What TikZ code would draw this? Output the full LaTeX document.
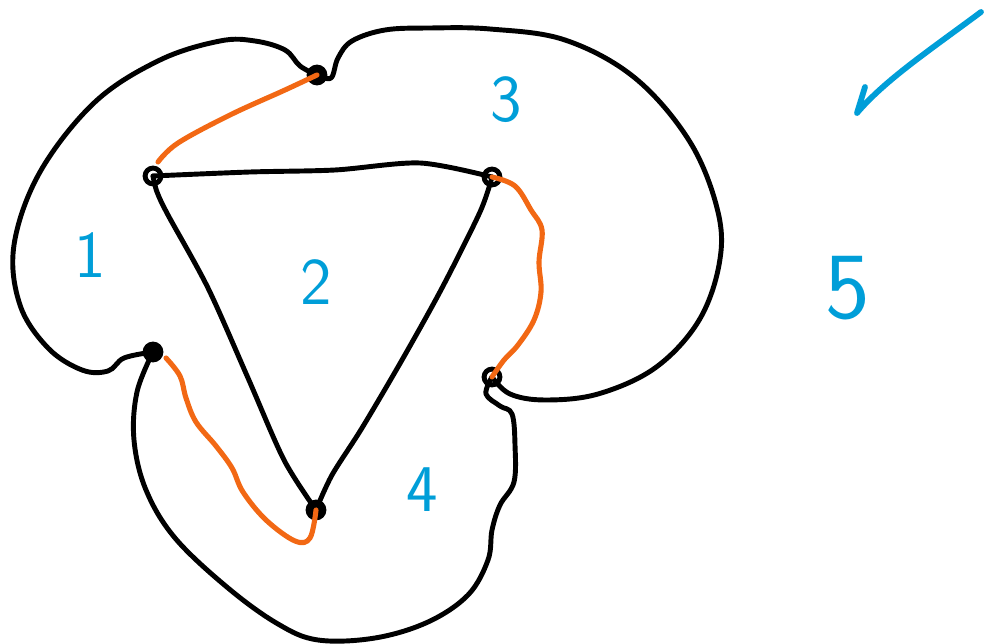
\documentclass[tikz,border=0pt]{standalone}
\usepackage{tikz}
\usetikzlibrary{positioning,calc}
\definecolor{inkorange}{RGB}{242,104,20}
\definecolor{inkblue}{RGB}{0,158,216}
\tikzset{
  knot/.style={circle,draw=black,line width=2.8pt,inner sep=0pt,minimum size=9pt},
  solidknot/.style={knot,fill=black},
  wire/.style={draw=black,line width=2.8pt,line cap=round,line join=round},
  twist/.style={draw=inkorange,line width=2.9pt,line cap=round,line join=round},
  region/.style={text=inkblue,font=\sffamily\fontsize{38}{40}\selectfont,inner sep=0pt},
  pointer/.style={draw=inkblue,line width=3.3pt,line cap=round,line join=round}
}

\begin{document}
\begin{tikzpicture}[x=0.02cm,y=-0.02cm]
  \useasboundingbox (0,0) rectangle (984,644);
  \node[knot] (A) at (153,176) {};
  \node[solidknot] (B) at (317,75) {};
  \node[knot] (C) at (492,177) {};
  \node[knot] (D) at (492,377) {};
  \node[solidknot] (E) at (153,352) {};
  \node[solidknot] (F) at (316,510) {};
  % outer curves
  \draw[wire] plot[smooth,tension=0.6] coordinates {(B) (300,66) (285,50) (255,41) (220,41) (160,60) (95,102) (40,172) (14,245) (20,305) (48,348) (82,370) (108,371) (124,358) (E)};
  \draw[wire] plot[smooth,tension=0.6] coordinates {(B) (331,78) (338,58) (352,41) (385,30) (430,28) (490,29) (565,40) (635,78) (690,142) (718,212) (719,265) (698,322) (655,368) (598,394) (545,400) (510,394) (D)};
  \draw[wire] plot[smooth,tension=0.6] coordinates {(D) (486,394) (500,406) (512,414) (515,445) (514,482) (500,505) (492,530) (488,560) (468,595) (428,622) (375,638) (318,640) (278,624) (228,588) (175,538) (146,490) (134,440) (137,392) (E)};
  % inner triangle
  \draw[wire] plot[smooth,tension=0.5] coordinates {(A) (250,172) (335,170) (420,163) (C)};
  \draw[wire] plot[smooth,tension=0.5] coordinates {(A) (157,192) (168,215) (208,288) (248,378) (284,460) (F)};
  \draw[wire] plot[smooth,tension=0.5] coordinates {(C) (480,212) (442,288) (402,360) (362,428) (332,475) (F)};
  % orange strands
  \draw[twist] plot[smooth,tension=0.6] coordinates {(158,162) (178,143) (230,115) (285,90) (B)};
  \draw[twist] plot[smooth,tension=0.6] coordinates {(C) (515,186) (531,210) (542,230) (539,262) (541,292) (534,320) (518,345) (504,360) (D)};
  \draw[twist] plot[smooth,tension=0.6] coordinates {(166,358) (180,376) (186,398) (196,422) (216,446) (232,468) (243,492) (266,520) (295,541) (310,538) (F)};
  % face numbers
  \node[region] (n1) at (90,255) {1};
  \node[region] (n2) at (316,282) {2};
  \node[region] (n3) at (506,100) {3};
  \node[region] (n4) at (422,490) {4};
  \node[region,font=\sffamily\fontsize{54}{56}\selectfont] (n5) at (848,288) {5};
  \coordinate (tail) at (981,12);
  \coordinate (tip) at (857,113);
  \draw[pointer] (tail) .. controls (930,50) and (885,80) .. (tip) -- (865,87);
\end{tikzpicture}
\end{document}
